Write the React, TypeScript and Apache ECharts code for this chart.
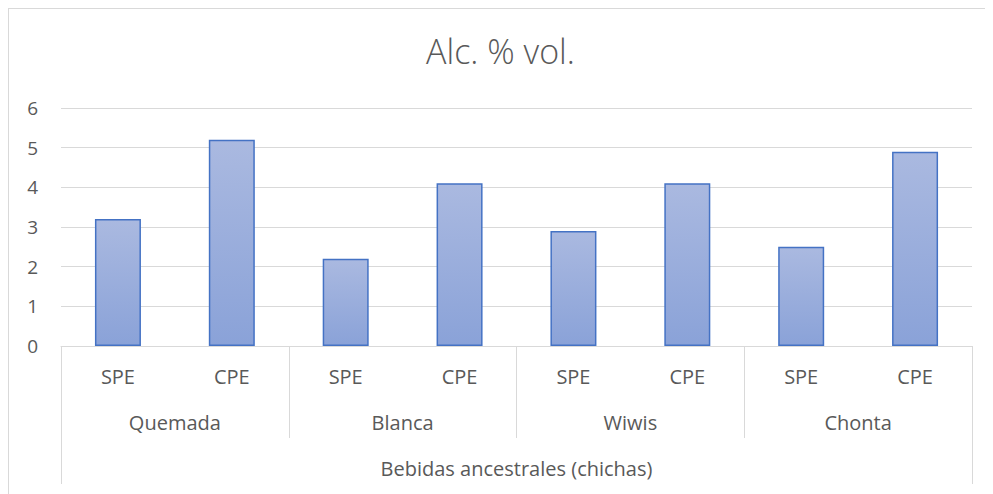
import React, { useEffect, useRef } from "react";
import * as echarts from "echarts";

const subCategories = ["SPE", "CPE", "SPE", "CPE", "SPE", "CPE", "SPE", "CPE"];
const groups = ["Quemada", "Blanca", "Wiwis", "Chonta"];
const topGroup = ["Bebidas ancestrales (chichas)"];
const values = [3.2, 5.2, 2.2, 4.1, 2.9, 4.1, 2.5, 4.9];
const yTicks = { min: 0, max: 6, interval: 1 };
const titleText = "Alc. % vol.";

const FONT = "'Open Sans', sans-serif";
const TEXT = "#595959";
const LINE = "#d9d9d9";

export default function App() {
  const ref = useRef<HTMLDivElement>(null);
  useEffect(() => {
    if (!ref.current) return;
    const chart = echarts.init(ref.current, undefined, { renderer: "svg" });
    chart.setOption({
      animation: false,
      textStyle: { fontFamily: FONT },
      title: {
        text: titleText,
        left: "center",
        top: 20,
        textStyle: { fontFamily: FONT, fontSize: 34, fontWeight: 300, color: TEXT },
      },
      grid: { left: 52, right: 20, top: 99, bottom: 147 },
      xAxis: [
        {
          type: "category",
          data: subCategories,
          axisLine: { show: true, lineStyle: { color: LINE, width: 1 } },
          axisTick: { show: false },
          axisLabel: { color: TEXT, fontSize: 20, margin: 20, interval: 0, fontFamily: FONT },
        },
        {
          type: "category",
          data: groups,
          position: "bottom",
          axisLine: { show: false },
          axisTick: { show: true, length: 92, lineStyle: { color: LINE } },
          axisLabel: { color: TEXT, fontSize: 20, margin: 66, interval: 0, fontFamily: FONT },
        },
        {
          type: "category",
          data: topGroup,
          position: "bottom",
          axisLine: { show: false },
          axisTick: { show: true, length: 138, lineStyle: { color: LINE } },
          axisLabel: { color: TEXT, fontSize: 20, margin: 112, interval: 0, fontFamily: FONT },
        },
      ],
      yAxis: {
        type: "value",
        min: yTicks.min,
        max: yTicks.max,
        interval: yTicks.interval,
        axisLine: { show: false },
        axisTick: { show: false },
        splitLine: { lineStyle: { color: LINE, width: 1 } },
        axisLabel: { color: TEXT, fontSize: 19, margin: 23, fontFamily: FONT },
      },
      series: [
        {
          type: "bar",
          xAxisIndex: 0,
          data: values,
          barWidth: 46,
          itemStyle: {
            borderColor: "#4472c4",
            borderWidth: 1.5,
            color: new echarts.graphic.LinearGradient(0, 0, 0, 1, [
              { offset: 0, color: "#aab9e0" },
              { offset: 1, color: "#8aa2d8" },
            ]),
          },
        },
      ],
    });
    return () => chart.dispose();
  }, []);
  return (
    <div
      style={{
        width: 985,
        height: 486,
        borderLeft: "1.5px solid #d9d9d9",
        borderTop: "1.5px solid #d9d9d9",
        boxSizing: "border-box",
      }}
    >
      <div ref={ref} style={{ width: 983, height: 484 }} />
    </div>
  );
}
